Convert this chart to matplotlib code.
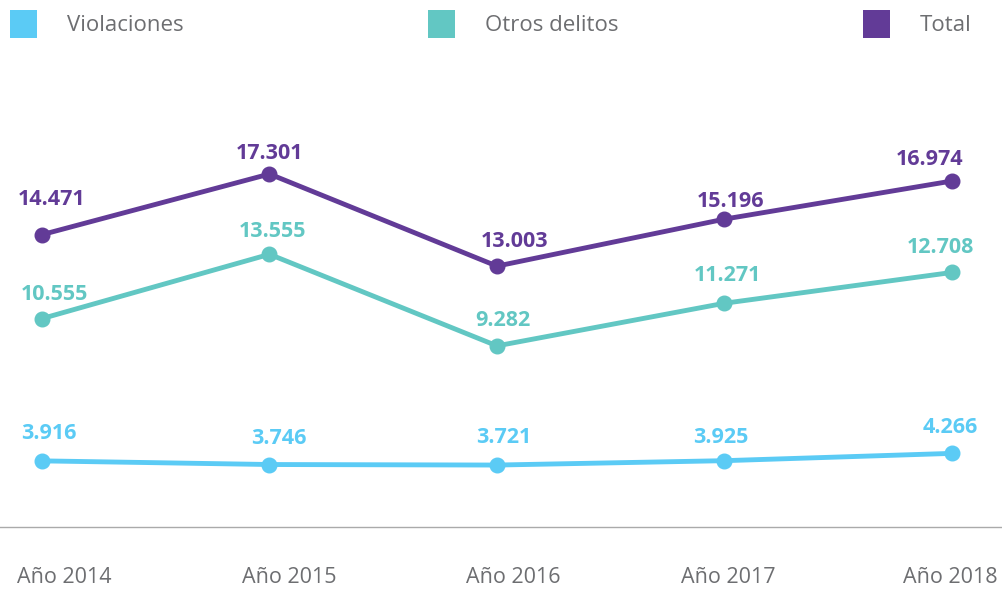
import matplotlib
matplotlib.use("Agg")
import matplotlib.pyplot as plt
import matplotlib.transforms as mtransforms
from matplotlib.patches import Patch

# ---- data ----
years = ["Año 2014", "Año 2015", "Año 2016", "Año 2017", "Año 2018"]
violaciones = [3.916, 3.746, 3.721, 3.925, 4.266]
otros_delitos = [10.555, 13.555, 9.282, 11.271, 12.708]
total = [14.471, 17.301, 13.003, 15.196, 16.974]
series_names = ["Violaciones", "Otros delitos", "Total"]

# ---- style ----
colors = ["#5BCBF5", "#62C7C3", "#623B97"]
grey = "#6D6E71"
font = ["Open Sans", "DejaVu Sans"]
plt.rcParams["font.family"] = font

# label offsets (points) per series / per year: (dx, dy)
label_offsets = [
    [(5, 19.5), (7, 19), (5, 19.5), (-3, 16.5), (-1, 18.5)],
    [(9, 17), (2, 16.5), (4, 18.5), (2, 20), (-8, 18)],
    [(7, 25), (0, 14.5), (13, 17.5), (4, 13), (-16, 15.5)],
]
tick_shift = [16, 14, 12, 3, -1]  # points

fig = plt.figure(figsize=(10.02, 5.89), dpi=100)
ax = fig.add_axes([0, 62 / 589, 1, 1 - 60 / 589 - 62 / 589])
ax.set_xlim(-0.1846, 4.2198)
ax.set_ylim(0.8306, 22.62)

x = list(range(len(years)))
all_series = [violaciones, otros_delitos, total]
for vals, c, offs in zip(all_series, colors, label_offsets):
    ax.plot(x, vals, color=c, lw=3.5, marker="o", markersize=10.5,
            solid_capstyle="round", zorder=3)
    for xi, v, (dx, dy) in zip(x, vals, offs):
        ax.annotate(f"{v:.3f}", (xi, v), xytext=(dx, dy), textcoords="offset points",
                    ha="center", va="center", color=c, fontsize=15.5,
                    fontweight="bold")

for s in ["top", "right", "left"]:
    ax.spines[s].set_visible(False)
ax.spines["bottom"].set_color("#AAAAAA")
ax.spines["bottom"].set_linewidth(1)
ax.set_yticks([])
ax.set_xticks(x)
ax.set_xticklabels(years, fontsize=15.5, color=grey)
ax.tick_params(axis="x", length=0, pad=29)
for lbl, sh in zip(ax.get_xticklabels(), tick_shift):
    lbl.set_transform(lbl.get_transform() +
                      mtransforms.ScaledTranslation(sh / 72, 0, fig.dpi_scale_trans))

handles = [Patch(facecolor=c, edgecolor="none") for c in colors]
leg = fig.legend(handles, series_names, loc="upper left", bbox_to_anchor=(0.0, 1.0),
                 ncol=3, frameon=False, fontsize=16, handlelength=1.21,
                 handleheight=1.55, handletextpad=1.35, columnspacing=11.0,
                 borderaxespad=0.0, borderpad=0.45)
for t in leg.get_texts():
    t.set_color(grey)

fig.savefig("out.png", dpi=100)
